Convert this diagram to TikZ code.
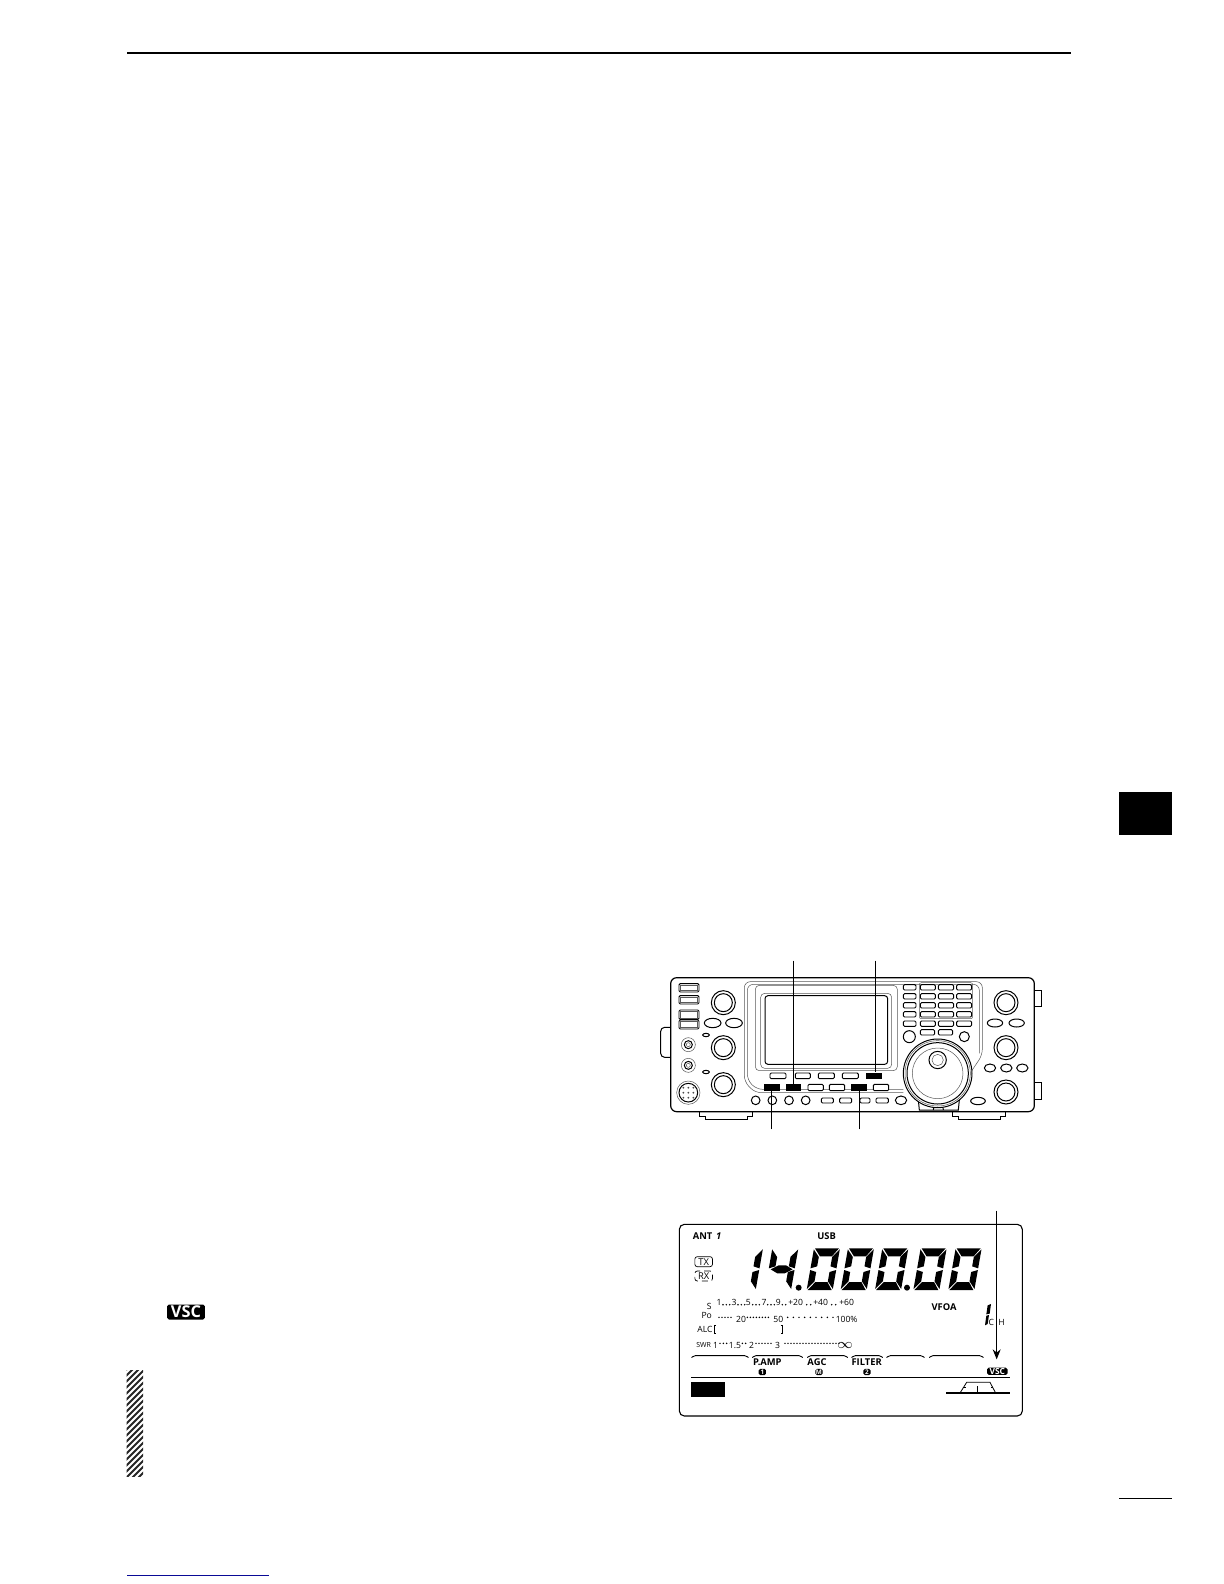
\documentclass[tikz,border=0pt]{standalone}
\usepackage{fontspec}
\setmainfont{Open Sans}
\usetikzlibrary{positioning, calc, arrows.meta}

\definecolor{linkblue}{RGB}{10,10,150}

\tikzset{
    frontline/.style={line width=0.5bp},
    thinline/.style={line width=0.25bp, black!65},
    keybtn/.style={line width=0.45bp, rounded corners=0.6bp, fill=white},
    blackbtn/.style={fill=black, inner sep=0pt, minimum height=3.2bp},
    leader/.style={line width=0.55bp},
    lcdtext/.style={inner sep=0pt, font=\fontsize{4.7}{5}\selectfont\bfseries},
    scaletext/.style={inner sep=0pt, font=\fontsize{4.3}{4}\selectfont},
    softkey/.style={line width=0.45bp, rounded corners=0.8bp},
    badge/.style={fill=black, text=white, inner sep=0pt, rounded corners=0.8bp, font=\fontsize{3.2}{3}\selectfont\bfseries},
    lampbox/.style={draw, line width=0.35bp, rounded corners=1.2bp, inner sep=0pt, minimum width=8.8bp, minimum height=5bp, font=\fontsize{4.7}{5}\selectfont},
    lcdzero/.pic={\segT\segUL\segUR\segLL\segLR\segB},
    lcdone/.pic={\segUR\segLR},
    lcdfour/.pic={\segUL\segUR\segLR\segM},
}

% seven segment pieces, local units of a digit 78 wide and 125 high
\newcommand{\segT}{\fill (3,-125) -- (75,-125) -- (58,-101) -- (22,-101) -- cycle;}
\newcommand{\segUL}{\fill (0,-122) -- (19,-99) -- (19,-71) -- (0,-65) -- cycle;}
\newcommand{\segUR}{\fill (78,-122) -- (78,-65) -- (59,-71) -- (59,-99) -- cycle;}
\newcommand{\segM}{\fill (6,-62) -- (28,-74) -- (50,-74) -- (72,-62) -- (50,-50) -- (28,-50) -- cycle;}
\newcommand{\segLL}{\fill (0,-60) -- (19,-54) -- (19,-26) -- (0,-3) -- cycle;}
\newcommand{\segLR}{\fill (78,-60) -- (78,-3) -- (59,-26) -- (59,-54) -- cycle;}
\newcommand{\segB}{\fill (3,0) -- (75,0) -- (58,-24) -- (22,-24) -- cycle;}

\begin{document}
\begin{tikzpicture}[x=0.5bp, y=-0.5bp]
    \useasboundingbox (0,0) rectangle (1224,1584);

    % page furniture
    \draw[line width=1bp] (127,53) -- (1071,53);
    \fill (1119,792) rectangle (1172,835);
    \draw[line width=0.65bp] (1119,1498.3) -- (1172,1498.3);
    \draw[line width=0.5bp, linkblue] (127,1575.3) -- (269,1575.3);

    \node[badge, minimum width=18.8bp, minimum height=7.5bp, font=\fontsize{8.2}{8}\selectfont\bfseries] (vscmark) at (186,1312) {VSC};

    % hatched bar
    \begin{scope}
        \clip (126.5,1370.5) rectangle (143,1476);
        \foreach \ypos in {1370,1376,...,1510} {
            \draw[line width=1bp, black!85] (120,\ypos) -- (150,\ypos-30);
        }
    \end{scope}

    % front panel
    \begin{scope}[shift={(640,940)}, x=0.16667bp, y=-0.16667bp]
        \draw[frontline, rounded corners=2bp] (92,262) -- (62,262) -- (62,352) -- (92,352);
        \draw[frontline] (1183,150) -- (1204,150) -- (1204,200) -- (1183,200);
        \draw[frontline] (1183,427) -- (1204,427) -- (1204,478) -- (1183,478);
        \draw[frontline] (178,515) -- (178,530) -- (195,530) -- (195,538) -- (322,538) -- (322,530) -- (338,530) -- (338,515);
        \draw[frontline] (937,515) -- (937,530) -- (954,530) -- (954,538) -- (1081,538) -- (1081,530) -- (1097,530) -- (1097,515);
        \draw[line width=0.6bp, rounded corners=3bp, fill=white] (92,113) rectangle (1183,515);

        % bezel and screen
        \draw[thinline, rounded corners=3bp] (790,458) -- (345,458) -- (313,425) -- (313,125) -- (1027,125) -- (1027,345) -- (990,400);
        \draw[thinline, rounded corners=3bp] (790,448) -- (350,448) -- (322,420) -- (322,133) -- (1018,133) -- (1018,340);
        \draw[thinline, rounded corners=2bp] (346,136) rectangle (772,392);
        \draw[thinline, rounded corners=2bp, fill=white] (362,160) rectangle (755,385);
        \draw[frontline, rounded corners=1.5bp] (375,167) rectangle (743,373);

        % left column
        \foreach \ytop/\ybot in {131/156, 167/192, 210/238, 240/267} {
            \draw[keybtn] (117,\ytop) rectangle (177,\ybot);
            \draw[thinline] (121,\ytop+4) rectangle (173,\ybot-4);
        }
        \foreach \xpos/\ypos in {250/188, 250/323, 250/434, 1098/188, 1098/323, 1098/456} {
            \draw[frontline] (\xpos,\ypos) circle[radius=36];
            \draw[frontline] (\xpos,\ypos) circle[radius=27];
        }
        \foreach \xpos/\ypos in {145/314, 145/376} {
            \draw[thinline] (\xpos,\ypos) circle[radius=21];
            \draw[frontline] (\xpos,\ypos) circle[radius=12];
            \draw[thinline] (\xpos,\ypos) circle[radius=6];
        }
        \draw[thinline] (145,458) circle[radius=35];
        \draw[frontline] (145,458) circle[radius=28];
        \foreach \xpos in {-15,0,15} {
            \foreach \ypos in {-15,0,15} {
                \fill[black!70] (145+\xpos,458+\ypos) circle[radius=3];
            }
        }

        % ovals
        \foreach \xpos/\ypos/\xrad/\yrad in {218/249/25/14, 282/249/25/14, 198/285/10/5, 198/396/10/5,
            1065/249/23/12, 1130/249/23/12, 1050/384/17/12, 1099/384/17/12, 1147/384/17/12,
            1014/483/22/11, 783/481/17/13} {
            \draw[frontline] (\xpos,\ypos) ellipse[x radius=\xrad, y radius=\yrad];
        }

        % soft keys
        \foreach \xl/\xr in {390/438, 466/511, 535/583, 607/655} {
            \draw[keybtn] (\xl,399) rectangle (\xr,416);
        }
        \foreach \xl/\xr in {504/550, 568/614, 700/746} {
            \draw[keybtn] (\xl,433) rectangle (\xr,452);
        }
        \foreach \xl/\xr in {544/580, 599/635, 660/690, 708/745} {
            \draw[keybtn] (\xl,474) rectangle (\xr,489);
        }
        \foreach \xpos in {347,397,447,497} {
            \draw[frontline, fill=white] (\xpos,481) circle[radius=13];
        }
        \node[blackbtn, minimum width=8bp] (btnlower) at (395,442.5) {};
        \node[blackbtn, minimum width=7.7bp] (btnmid) at (460,442.5) {};
        \node[blackbtn, minimum width=7.8bp] (btnright) at (657.5,442.5) {};
        \node[blackbtn, minimum width=8.2bp, minimum height=3bp] (btnscreen) at (702.5,407.5) {};

        % keypad
        \draw[thinline, rounded corners=1bp] (838,128) rectangle (998,236);
        \foreach \ytop in {134,161,188,215,243} {
            \draw[keybtn] (790,\ytop) rectangle (828,\ytop+16);
            \foreach \xl/\xr in {841/886, 895/941, 950/995} {
                \draw[keybtn] (\xl,\ytop) rectangle (\xr,\ytop+16);
            }
        }
        \draw[keybtn] (841,269) rectangle (884,285);
        \draw[keybtn] (895,269) rectangle (938,285);
        \draw[frontline] (808,290) circle[radius=18];
        \draw[frontline] (973,290) circle[radius=15];

        % main dial
        \draw[frontline] (835,480) -- (838,510) -- (955,510) -- (958,480);
        \draw[frontline] (880,510) -- (882,497) -- (908,497) -- (910,510);
        \draw[frontline, fill=white] (893,400) circle[radius=103];
        \draw[thinline] (893,400) circle[radius=98];
        \draw[frontline] (893,400) circle[radius=92];
        \draw[thinline] (893,400) circle[radius=76];
        \draw[frontline, fill=white] (893,360) circle[radius=26];
        \draw[thinline] (893,360) circle[radius=17];

        % leader lines
        \coordinate (endmid) at (460,62);
        \coordinate (endscreen) at (706,62);
        \coordinate (endlower) at (395,568);
        \coordinate (endright) at (659,568);
        \draw[leader] (endmid) -- (endmid |- btnmid.north);
        \draw[leader] (endscreen) -- (endscreen |- btnscreen.north);
        \draw[leader] (endlower) -- (endlower |- btnlower.south);
        \draw[leader] (endright) -- (endright |- btnright.south);
    \end{scope}

    % display, upper half
    \begin{scope}[shift={(665,1190)}, x=0.16667bp, y=-0.16667bp]
        \draw[line width=0.55bp, rounded corners=2.5bp] (43,103) rectangle (1072,678);

        \node[lcdtext] (ant) at (113,137) {ANT};
        \node[lcdtext] (antnum) at (161,137) {\itshape 1};
        \node[lcdtext] (mode) at (485,137) {USB};
        \node[lampbox] (tx) at (116,215) {TX};
        \node[lampbox, densely dashed] (rx) at (116,258) {RX};

        \pic[xslant=0.176] at (194,300) {lcdone};
        \pic[xslant=0.176] at (300,300) {lcdfour};
        \foreach \xpos in {425,527,630,745,850} {
            \pic[xslant=0.176] at (\xpos,300) {lcdzero};
        }
        \fill (401,293) circle[radius=9];
        \fill (726,293) circle[radius=9];
    \end{scope}

    % display, lower half
    \begin{scope}[shift={(665,1280)}, x=0.16667bp, y=-0.16667bp]
        \node[scaletext] (sname) at (133,80) {S};
        \node[scaletext] (poname) at (125,105) {Po};
        \node[scaletext] (alcname) at (120,148) {ALC};
        \node[scaletext, font=\fontsize{3.5}{4}\selectfont] (swrname) at (116,195) {SWR};
        \foreach \xpos/\txt [count=\i] in {162/1, 207/3, 250/5, 297/7, 340/9, 392/+20, 467/+40, 545/+60} {
            \node[scaletext] (s\i) at (\xpos,68) {\txt};
        }
        \foreach \xpos in {174,184,194,219,229,239,263,273,283,308,318,328,352,362,425,437,500,512} {
            \fill (\xpos,74) circle[radius=2.5];
        }
        \foreach \xpos/\txt [count=\i] in {228/20, 340/50, 545/100\%} {
            \node[scaletext] (po\i) at (\xpos,117) {\txt};
        }
        \foreach \xpos in {162,171,...,205,247,256,...,315,368,385,...,505} {
            \fill (\xpos,112) circle[radius=2.5];
        }
        \draw[line width=0.35bp] (152,136) -- (147,136) -- (147,160) -- (152,160);
        \draw[line width=0.35bp] (347,136) -- (352,136) -- (352,160) -- (347,160);
        \foreach \xpos/\txt [count=\i] in {152/1, 210/1.5, 260/2, 338/3} {
            \node[scaletext] (swr\i) at (\xpos,197) {\txt};
        }
        \node[scaletext, font=\fontsize{7}{7}\selectfont] (swrinf) at (540,195) {$\infty$};
        \foreach \xpos in {165,175,185,232,242,273,282,...,320,360,369,...,522} {
            \fill (\xpos,190) circle[radius=2.5];
        }
        \node[lcdtext] (vfo) at (837,80) {VFOA};
        \node[scaletext] (chname) at (995,127) {C\hspace{2.2bp}H};
        \fill (968,76) -- (978,72) -- (974,101) -- (964,103) -- cycle;
        \fill (964,107) -- (972,105) -- (968,132) -- (960,136) -- cycle;

        % function key brackets
        \foreach \xl/\xr in {80/250, 262/413, 427/548, 560/653, 665/778, 793/955} {
            \draw[softkey] (\xl,233) -- (\xl+6,227) -- (\xr-6,227) -- (\xr,233);
        }
        \node[lcdtext] (pamp) at (307,246) {P.AMP};
        \node[lcdtext] (agc) at (456,246) {AGC};
        \node[lcdtext] (filter) at (605,246) {FILTER};
        \node[badge, minimum width=3.6bp, minimum height=3.2bp] (bone) at (292,276) {1};
        \node[badge, minimum width=3.6bp, minimum height=3.2bp] (bmid) at (462,276) {M};
        \node[badge, minimum width=3.6bp, minimum height=3.2bp] (btwo) at (606,276) {2};
        \node[badge, minimum width=10.2bp, minimum height=3.6bp, font=\fontsize{4.2}{3}\selectfont\bfseries] (bvsc) at (997,274) {VSC};

        \draw[line width=0.65bp] (78,293) -- (1035,293);
        \fill (78,307) rectangle (180,351);

        % passband
        \draw[line width=0.65bp] (843,339) -- (1035,339);
        \draw[line width=0.4bp] (885,339) -- (905,307) -- (975,307) -- (992,339);
        \draw[line width=0.4bp] (938,318) -- (938,339);
        \draw[line width=0.4bp] (893,322) -- (903,322);
        \draw[line width=0.4bp] (978,322) -- (985,322);

        \coordinate (endvsc) at (995,-208);
        \draw[leader, -{Stealth[length=5bp, width=4bp]}, shorten >=4bp] (endvsc) -- (endvsc |- bvsc.north);
    \end{scope}
\end{tikzpicture}
\end{document}
